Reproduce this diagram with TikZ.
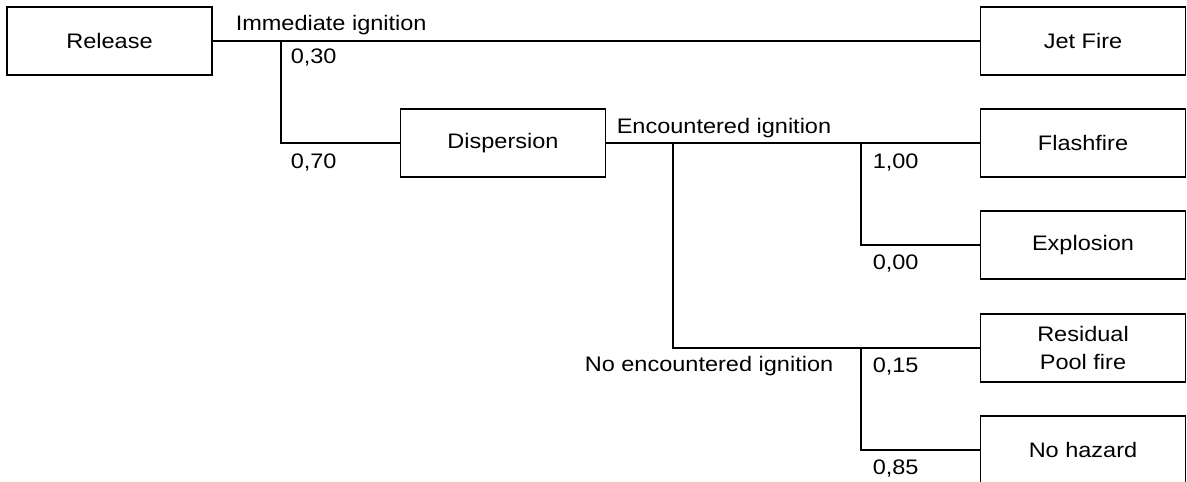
\documentclass[tikz,border=0pt]{standalone}
\usepackage{xcolor}
\usepackage{fontspec}
\setmainfont{Liberation Sans}[FakeStretch=1.12]
\usepackage{tikz}

\tikzset{
  event/.style={draw, minimum width=205pt, minimum height=68pt, inner sep=0pt, align=center},
  prob/.style={anchor=base west, inner sep=0pt},
}

\begin{document}
\begin{tikzpicture}[x=1pt, y=-1pt, line width=1.5pt, font=\fontsize{21}{28}\selectfont]
        \useasboundingbox (0,0) rectangle (1187,482);

        \node[event] (rel)   at (109.5,41) {Release};
        \node[event] (disp)  at (503,143)  {Dispersion};
        \node[event] (jet)   at (1083,41)  {Jet Fire};
        \node[event] (flash) at (1083,143) {Flashfire};
        \node[event] (expl)  at (1083,245) {Explosion};
        \node[event] (pool)  at (1083,348) {Residual\\Pool fire};
        \node[event] (nohaz) at (1083,450) {No hazard};

        % branch points
        \coordinate (k1) at (281,41);
        \coordinate (k2) at (673,143);
        \coordinate (k3) at (861,143);
        \coordinate (k4) at (861,348);

        \draw (rel) -- (jet);
        \draw (k1) |- (disp.west);
        \draw (disp) -- (flash);
        \draw (k2) |- (pool.west);
        \draw (k3) |- (expl.west);
        \draw (k4) |- (nohaz.west);

        \node[prob] (limm) at (235,30.7)  {Immediate ignition};
        \node[prob] (p030) at (290,63.5)  {0,30};
        \node[prob] (p070) at (290,168)   {0,70};
        \node[prob] (lenc) at (616,133.3) {Encountered ignition};
        \node[prob] (p100) at (872,168)   {1,00};
        \node[prob] (p000) at (872,269.3) {0,00};
        \node[prob, anchor=base east] (lnoenc) at (834,371.7) {No encountered ignition};
        \node[prob] (p015) at (872,372.3) {0,15};
        \node[prob] (p085) at (872,474)   {0,85};
      \end{tikzpicture}
\end{document}
